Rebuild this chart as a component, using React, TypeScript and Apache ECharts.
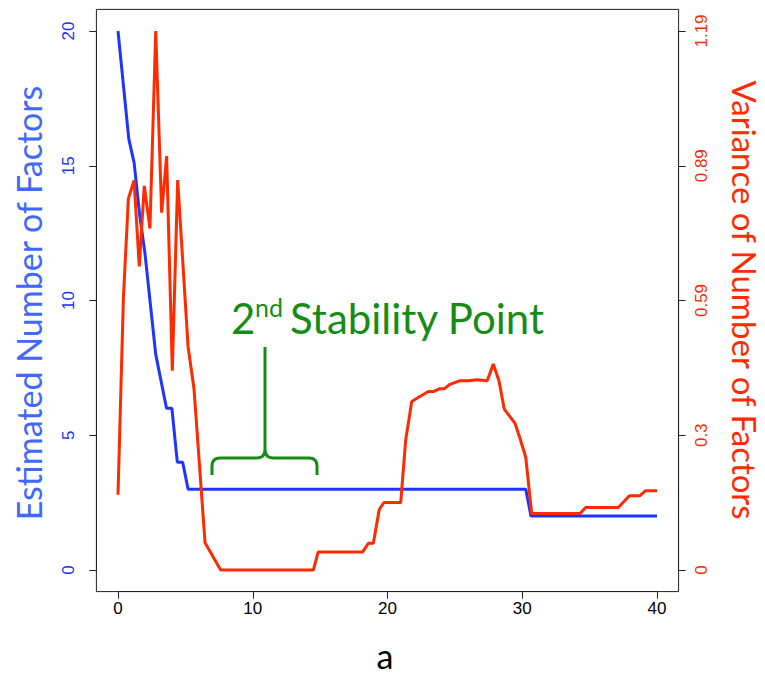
import React, { useEffect, useRef } from "react";
import * as echarts from "echarts";

// ---- data ----
const aBlue = [0, 0.8, 1.2, 1.6, 2.0, 2.8, 3.6, 4.0, 4.4, 4.8, 5.2, 30.26, 30.65, 40];
const nBlue = [20, 16, 15.1, 13.2, 11.75, 8.0, 6.0, 6.0, 4.0, 4.0, 3.0, 3.0, 2.0, 2.0];

const aRed = [0, 0.4, 0.77, 1.19, 1.58, 1.95, 2.37, 2.8, 3.24, 3.61, 4.03, 4.43, 5.2, 5.64, 6.46, 7.62,
  14.5, 14.86, 18.16, 18.58, 18.95, 19.39, 19.74, 20.98, 21.35, 21.8, 22.4, 23.03, 23.4, 23.85, 24.2,
  24.64, 25.38, 26.0, 26.62, 27.4, 27.85, 28.27, 28.67, 29.0, 29.46, 29.83, 30.26, 30.7, 34.3, 34.7,
  37.13, 37.95, 38.74, 39.16, 40];
const vRed = [0.166, 0.6, 0.82, 0.86, 0.67, 0.848, 0.754, 1.19, 0.789, 0.914, 0.44, 0.861, 0.493, 0.40,
  0.06, 0, 0, 0.04, 0.04, 0.059, 0.059, 0.134, 0.149, 0.149, 0.287, 0.372, 0.383, 0.394, 0.394, 0.40,
  0.40, 0.41, 0.418, 0.418, 0.42, 0.418, 0.455, 0.418, 0.355, 0.342, 0.324, 0.291, 0.249, 0.125, 0.125,
  0.138, 0.138, 0.164, 0.164, 0.175, 0.175];

const xTicks = [0, 10, 20, 30, 40];
const leftTicks = [0, 5, 10, 15, 20];
const rightTickLabels = ["0", "0.3", "0.59", "0.89", "1.19"];
const RIGHT_MAX = 1.19;
const RIGHT_STEP = RIGHT_MAX / 4;

const leftTitle = "Estimated Number of Factors";
const rightTitle = "Variance of Number of Factors";
const xTitle = "a";

// ---- layout ----
const W = 765;
const H = 680;
const G_LEFT = 118;
const G_TOP = 31;
const G_W = 539;
const G_H = 539;
const PAD = 21.6;

const BLUE = "#1f35ff";
const RED = "#ff2a00";
const GREEN = "#168c16";
const AXIS = "#222222";

const BRACKET_D =
  "M212,475 L212,466 Q212,458 220,458 L257,458 Q265,458 265,449 L265,347 M265,449 Q265,458 273,458 L309,458 Q317,458 317,466 L317,475";

let registered = false;
function ensureShape() {
  if (registered) return;
  echarts.graphic.registerShape("bracket", echarts.graphic.extendPath(BRACKET_D, {}) as any);
  registered = true;
}

export default function App() {
  const ref = useRef<HTMLDivElement>(null);
  useEffect(() => {
    document.body.style.margin = "0";
    ensureShape();
    const chart = echarts.init(ref.current!, null, { renderer: "svg" });
    const blueData = aBlue.map((a, i) => [a, nBlue[i]]);
    const redData = aRed.map((a, i) => [a, vRed[i]]);
    const tickFont = "Liberation Sans";
    const axisLine = { show: true, onZero: false, lineStyle: { color: AXIS, width: 1 } };
    const axisTick = { show: true, length: 7, lineStyle: { color: AXIS } };
    chart.setOption({
      animation: false,
      backgroundColor: "#ffffff",
      grid: { left: G_LEFT, top: G_TOP, width: G_W, height: G_H },
      xAxis: {
        type: "value",
        min: xTicks[0],
        max: xTicks[xTicks.length - 1],
        interval: 10,
        offset: PAD,
        splitLine: { show: false },
        axisLine,
        axisTick,
        axisLabel: { color: "#000", fontSize: 17, fontFamily: tickFont, margin: 8 },
      },
      yAxis: [
        {
          type: "value",
          position: "left",
          min: leftTicks[0],
          max: leftTicks[leftTicks.length - 1],
          interval: 5,
          offset: PAD,
          splitLine: { show: false },
          axisLine,
          axisTick,
          axisLabel: { color: "#1a30ff", fontSize: 17, fontFamily: tickFont, rotate: 90, margin: 19 },
        },
        {
          type: "value",
          position: "right",
          min: 0,
          max: RIGHT_MAX,
          interval: RIGHT_STEP,
          offset: PAD,
          splitLine: { show: false },
          axisLine,
          axisTick,
          axisLabel: {
            color: RED,
            fontSize: 17,
            fontFamily: tickFont,
            rotate: 90,
            margin: 14,
            formatter: (v: number) => rightTickLabels[Math.round(v / RIGHT_STEP)] ?? "",
          },
        },
      ],
      series: [
        {
          type: "line",
          name: leftTitle,
          yAxisIndex: 0,
          data: blueData,
          showSymbol: false,
          clip: false,
          lineStyle: { color: BLUE, width: 3 },
          itemStyle: { color: BLUE },
          z: 2,
        },
        {
          type: "line",
          name: rightTitle,
          yAxisIndex: 1,
          data: redData,
          showSymbol: false,
          clip: false,
          lineStyle: { color: RED, width: 3 },
          itemStyle: { color: RED },
          z: 3,
        },
      ],
      graphic: [
        {
          type: "rect",
          silent: true,
          z: 1,
          shape: { x: G_LEFT - PAD, y: G_TOP - PAD, width: G_W + 2 * PAD, height: G_H + 2 * PAD },
          style: { fill: "none", stroke: AXIS, lineWidth: 1 },
        },
        {
          type: "text",
          x: 28,
          y: 303,
          rotation: Math.PI / 2,
          style: {
            text: leftTitle,
            fill: "#4068ff",
            font: "34px Lato",
            textAlign: "center",
            textVerticalAlign: "middle",
          },
        },
        {
          type: "text",
          x: 745,
          y: 300,
          rotation: -Math.PI / 2,
          style: {
            text: rightTitle,
            fill: RED,
            font: "33px Lato",
            textAlign: "center",
            textVerticalAlign: "middle",
          },
        },
        {
          type: "text",
          x: 385,
          y: 655,
          style: {
            text: xTitle,
            fill: "#000",
            font: "34px Lato",
            textAlign: "center",
            textVerticalAlign: "middle",
          },
        },
        {
          type: "text",
          x: 231,
          y: 318,
          style: { text: "2", fill: GREEN, font: "42px Lato", textAlign: "left", textVerticalAlign: "middle" },
        },
        {
          type: "text",
          x: 255,
          y: 307,
          style: { text: "nd", fill: GREEN, font: "25px Lato", textAlign: "left", textVerticalAlign: "middle" },
        },
        {
          type: "text",
          x: 290,
          y: 318,
          style: {
            text: "Stability Point",
            fill: GREEN,
            font: "42px Lato",
            textAlign: "left",
            textVerticalAlign: "middle",
          },
        },
        {
          type: "bracket",
          x: 0,
          y: 0,
          scaleX: 1,
          scaleY: 1,
          silent: true,
          style: { fill: "none", stroke: GREEN, lineWidth: 3 },
        },
      ],
    });
    return () => chart.dispose();
  }, []);
  return <div ref={ref} style={{ width: W, height: H }} />;
}
